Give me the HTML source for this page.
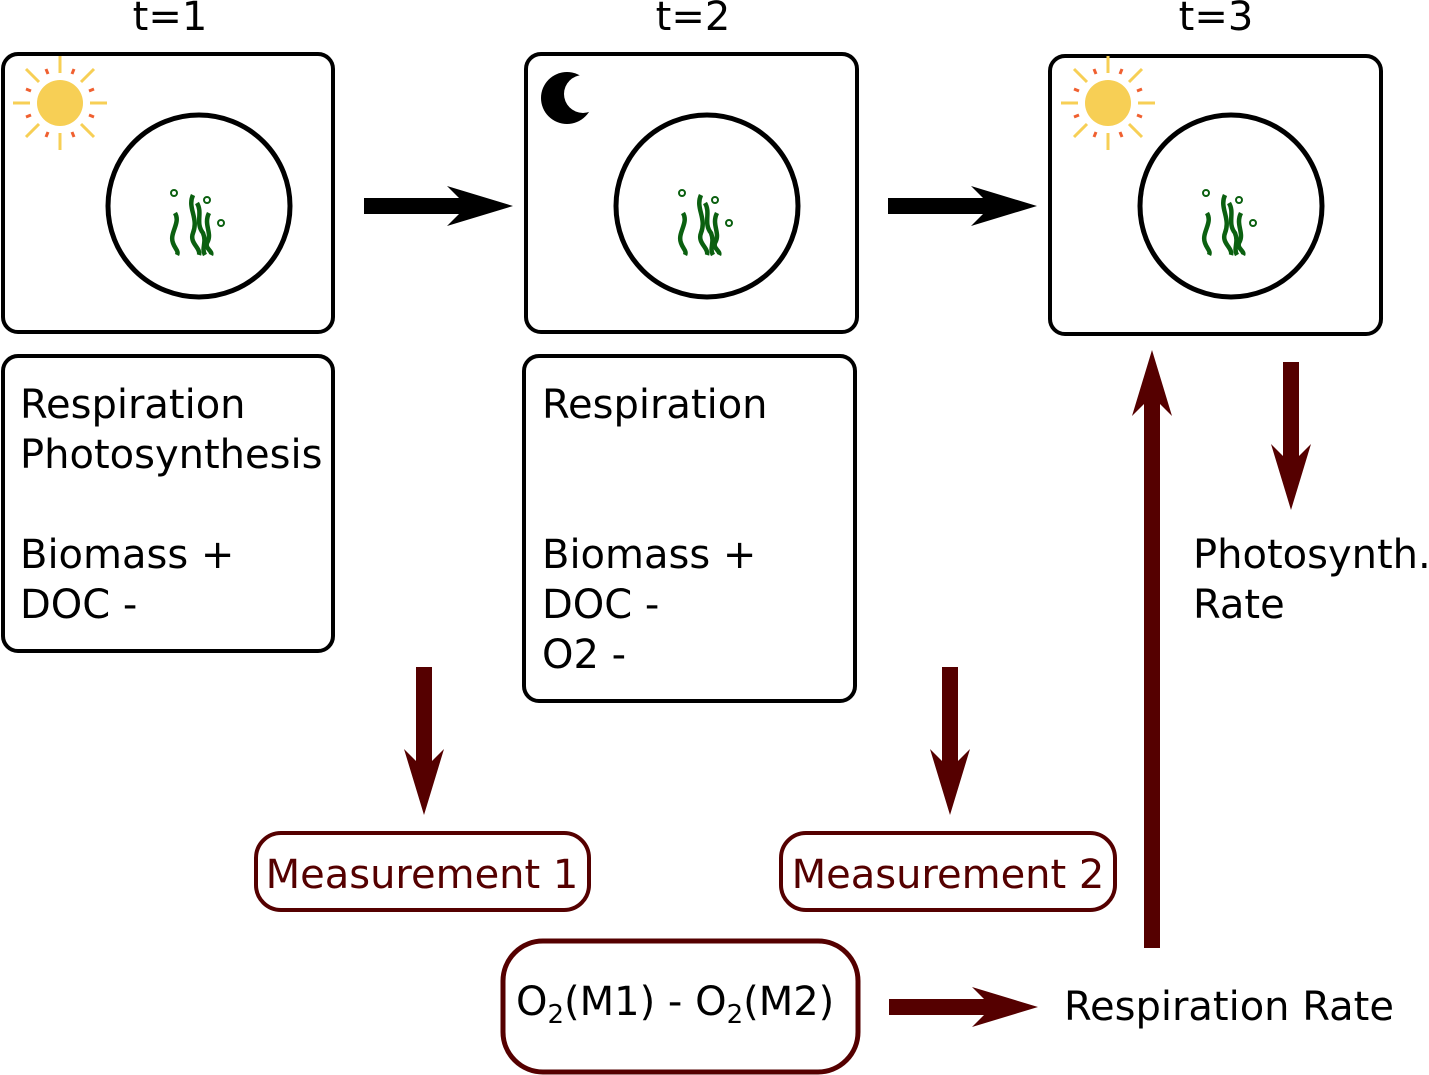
<!DOCTYPE html>
<html><head><meta charset="utf-8"><style>
body{margin:0;background:#fff}
svg{display:block}
text{font-family:"DejaVu Sans","Liberation Sans",sans-serif;font-size:40px}
</style></head><body>
<svg width="1429" height="1075" viewBox="0 0 1429 1075">
<defs>
<g id="sun">
  <circle r="23" fill="#f7cf55"/>
  <g stroke="#f7cf55" stroke-width="3">
    <line x1="0" y1="-30" x2="0" y2="-47"/><line x1="0" y1="30" x2="0" y2="47"/>
    <line x1="-30" y1="0" x2="-47" y2="0"/><line x1="30" y1="0" x2="47" y2="0"/>
    <line x1="21" y1="21" x2="34" y2="34"/><line x1="-21" y1="21" x2="-34" y2="34"/>
    <line x1="21" y1="-21" x2="34" y2="-34"/><line x1="-21" y1="-21" x2="-34" y2="-34"/>
  </g>
  <g stroke="#f06030" stroke-width="3">
    <line x1="12" y1="-29" x2="14" y2="-34"/><line x1="-12" y1="-29" x2="-14" y2="-34"/>
    <line x1="12" y1="29" x2="14" y2="34"/><line x1="-12" y1="29" x2="-14" y2="34"/>
    <line x1="29" y1="12" x2="34" y2="14"/><line x1="-29" y1="12" x2="-34" y2="14"/>
    <line x1="29" y1="-12" x2="34" y2="-14"/><line x1="-29" y1="-12" x2="-34" y2="-14"/>
  </g>
</g>
<g id="plant" fill="none" stroke="#0b6010" stroke-width="4.5">
  <circle cx="-25" cy="-40" r="3" stroke-width="2"/>
  <circle cx="8" cy="-33" r="3" stroke-width="2"/>
  <circle cx="22" cy="-10" r="3" stroke-width="2"/>
  <path d="M-24,-20 C-18,-10 -30,0 -26,10 C-24,16 -20,18 -22,22"/>
  <path d="M-6,-38 C-12,-25 0,-15 -6,0 C-10,10 2,15 0,22"/>
  <path d="M10,-20 C4,-8 14,0 8,10 C6,16 14,18 12,22"/>
  <path d="M-2,-30 C4,-20 -4,-10 4,0 C8,10 2,15 6,22"/>
</g>
<mask id="moonmask">
  <rect x="500" y="50" width="150" height="120" fill="#fff"/>
  <circle cx="583" cy="94" r="19" fill="#000"/>
</mask>
</defs>

<g fill="#000">
  <text x="170" y="30" text-anchor="middle">t=1</text>
  <text x="693" y="30" text-anchor="middle">t=2</text>
  <text x="1216" y="30" text-anchor="middle">t=3</text>
</g>

<g fill="none" stroke="#000" stroke-width="4">
  <rect x="3" y="54" width="330" height="278" rx="15"/>
  <rect x="526" y="54" width="331" height="278" rx="15"/>
  <rect x="1050" y="56" width="331" height="278" rx="15"/>
  <circle cx="199" cy="206" r="91" stroke-width="5"/>
  <circle cx="707" cy="206" r="91" stroke-width="5"/>
  <circle cx="1231" cy="206" r="91" stroke-width="5"/>
  <rect x="3" y="356" width="330" height="295" rx="15"/>
  <rect x="524" y="356" width="331" height="345" rx="15"/>
</g>

<use href="#sun" x="60" y="103"/>
<use href="#sun" x="1108" y="103"/>
<circle cx="567" cy="98" r="26" fill="#000" mask="url(#moonmask)"/>
<use href="#plant" x="199" y="233"/>
<use href="#plant" x="707" y="233"/>
<use href="#plant" x="1231" y="233"/>

<g fill="#000">
  <text x="20" y="418">Respiration</text>
  <text x="20" y="468">Photosynthesis</text>
  <text x="20" y="568">Biomass +</text>
  <text x="20" y="618">DOC -</text>
  <text x="542" y="418">Respiration</text>
  <text x="542" y="568">Biomass +</text>
  <text x="542" y="618">DOC -</text>
  <text x="542" y="668">O2 -</text>
  <text x="1193" y="568">Photosynth.</text>
  <text x="1193" y="618">Rate</text>
  <text x="1064" y="1020">Respiration Rate</text>
  <text x="516" y="1015">O<tspan font-size="26" dy="8">2</tspan><tspan dy="-8">(M1) - O</tspan><tspan font-size="26" dy="8">2</tspan><tspan dy="-8">(M2)</tspan></text>
</g>

<g fill="none" stroke="#550000">
  <rect x="256" y="833" width="333" height="77" rx="25" stroke-width="4"/>
  <rect x="781" y="833" width="334" height="77" rx="25" stroke-width="4"/>
  <rect x="503" y="941" width="355" height="131" rx="40" stroke-width="5"/>
</g>
<g fill="#550000">
  <text x="422" y="888" text-anchor="middle">Measurement 1</text>
  <text x="948" y="888" text-anchor="middle">Measurement 2</text>
</g>

<path transform="translate(364,206)" d="M0,-8 H95 L83,-20 L149,0 L83,20 L95,8 H0Z" fill="#000"/>
<path transform="translate(888,206)" d="M0,-8 H95 L83,-20 L149,0 L83,20 L95,8 H0Z" fill="#000"/>
<g fill="#550000">
  <path transform="translate(424,667) rotate(90)" d="M0,-8 H94 L82,-20 L148,0 L82,20 L94,8 H0Z"/>
  <path transform="translate(950,667) rotate(90)" d="M0,-8 H94 L82,-20 L148,0 L82,20 L94,8 H0Z"/>
  <path transform="translate(1291,362) rotate(90)" d="M0,-8 H94 L82,-20 L148,0 L82,20 L94,8 H0Z"/>
  <path transform="translate(1152,948) rotate(-90)" d="M0,-8 H544 L532,-20 L598,0 L532,20 L544,8 H0Z"/>
  <path transform="translate(889,1007)" d="M0,-8 H95 L83,-20 L149,0 L83,20 L95,8 H0Z"/>
</g>
</svg>
</body></html>
